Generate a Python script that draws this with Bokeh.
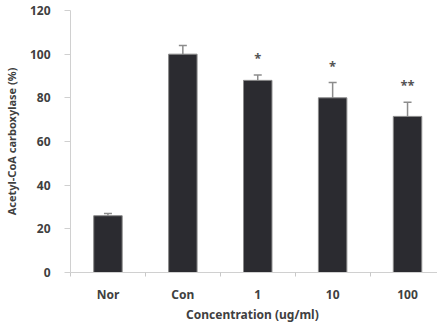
from bokeh.plotting import figure
from bokeh.models import ColumnDataSource, FixedTicker, Range1d, Whisker
from bokeh.core.properties import value
from bokeh.embed import file_html
from bokeh.resources import INLINE

categories = ["Nor", "Con", "1", "10", "100"]
means = [26, 100, 88, 80, 71.5]
errors = [1, 4, 2.5, 7, 6.5]
stars = ["", "", "*", "*", "**"]
y_ticks = [0, 20, 40, 60, 80, 100, 120]

xs = [i + 0.5 for i in range(len(categories))]
source = ColumnDataSource(dict(
    x=xs, top=means, err=errors,
    upper=[m + e for m, e in zip(means, errors)],
    stars=stars,
))

FONT = "Noto Sans"
TXT = "#404040"

p = figure(width=437, height=325, output_backend="svg", toolbar_location=None,
           x_range=Range1d(0, 4.9), y_range=Range1d(0, 120),
           min_border_left=69, min_border_right=0, min_border_top=10,
           min_border_bottom=50)
p.outline_line_color = None
p.grid.grid_line_color = None
p.background_fill_color = "white"

p.vbar(x="x", top="top", width=0.38, source=source,
       fill_color="#2b2b30", line_color="#8a8a8a", line_width=1)

w = Whisker(source=source, base="x", lower="top", upper="upper",
            line_color="#8c8c8c", line_width=1.5, lower_head=None)
w.upper_head.size = 8
w.upper_head.line_color = "#8c8c8c"
w.upper_head.line_width = 1.5
p.add_layout(w)

p.text(x="x", y="upper", text="stars", source=source, text_align="center",
       text_baseline="middle", y_offset=-17, text_font=value(FONT),
       text_font_size="13px", text_font_style="bold", text_color="#555555")

# x axis: labels at centres, ticks at boundaries
p.xaxis.ticker = FixedTicker(ticks=xs, minor_ticks=list(range(len(categories) + 1)))
p.xaxis.major_label_overrides = {x: c for x, c in zip(xs, categories)}
p.xaxis.major_tick_line_color = None
p.xaxis.minor_tick_out = 4
p.xaxis.minor_tick_in = 0
p.xaxis.minor_tick_line_color = "#c8c8c8"
p.xaxis.axis_line_color = "#d0d0d0"
p.xaxis.major_label_standoff = 7
p.xaxis.axis_label = "Concentration  (ug/ml)"
p.xaxis.axis_label_standoff = 0

p.yaxis.ticker = FixedTicker(ticks=y_ticks)
p.yaxis.minor_tick_line_color = None
p.yaxis.major_tick_out = 6
p.yaxis.major_tick_in = 0
p.yaxis.major_tick_line_color = "#d0d0d0"
p.yaxis.axis_line_color = "#d0d0d0"
p.yaxis.major_label_standoff = 14
p.yaxis.axis_label = "Acetyl-CoA carboxylase (%)"
p.yaxis.axis_label_standoff = 8

for ax in (p.xaxis, p.yaxis):
    ax.major_label_text_font = FONT
    ax.major_label_text_font_style = "bold"
    ax.major_label_text_font_size = "12px"
    ax.major_label_text_color = TXT
    ax.axis_label_text_font = FONT
    ax.axis_label_text_font_style = "bold"
    ax.axis_label_text_color = TXT
p.xaxis.axis_label_text_font_size = "12px"
p.yaxis.axis_label_text_font_size = "11px"

open("out.html", "w").write(file_html(p, INLINE))
